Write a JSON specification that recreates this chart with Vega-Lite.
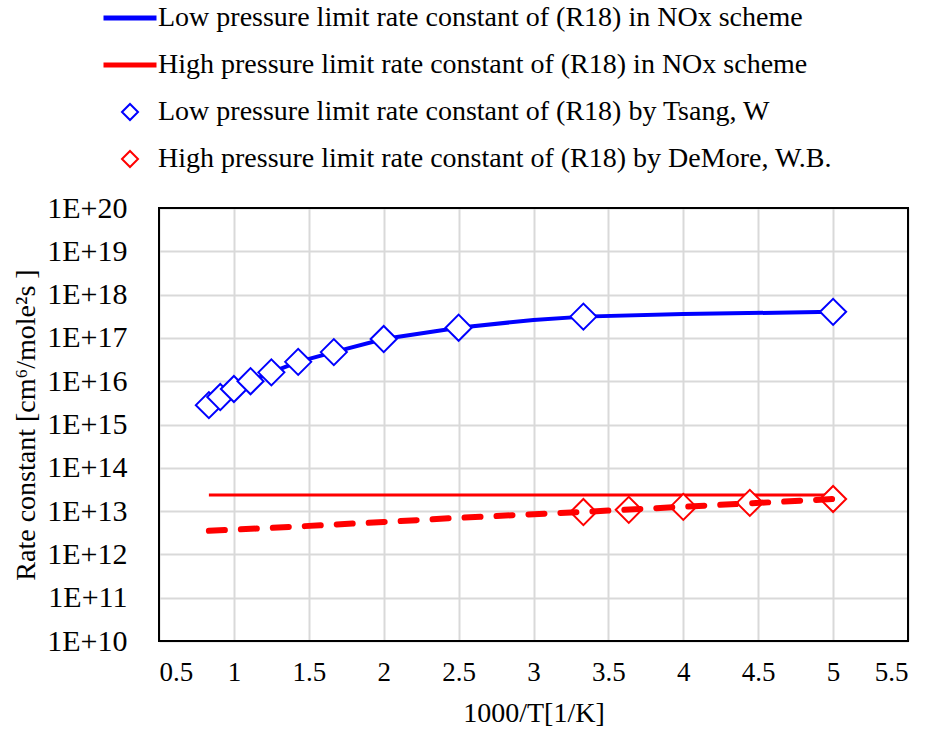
{
  "$schema": "https://vega.github.io/schema/vega-lite/v6.json",
  "width": 749,
  "height": 433,
  "autosize": "none",
  "padding": {"left": 159, "top": 208, "right": 22, "bottom": 92},
  "background": "white",
  "config": {
    "font": "Liberation Serif",
    "view": {"stroke": "black", "strokeWidth": 2},
    "style": {"cell": {"strokeForeground": true}},
    "axis": {
      "grid": true,
      "gridColor": "#d9d9d9",
      "gridWidth": 2,
      "domain": false,
      "ticks": false,
      "labelFont": "Liberation Serif",
      "labelColor": "black",
      "titleFont": "Liberation Serif",
      "titleFontSize": 28,
      "titleFontWeight": "normal",
      "titleColor": "black"
    },
    "legend": {
      "labelFont": "Liberation Serif",
      "labelFontSize": 28,
      "labelColor": "black",
      "labelLimit": 0
    }
  },
  "datasets": {
    "scheme_low": [
      {"series": "Low pressure limit rate constant of (R18) in NOx scheme", "invT": 0.833, "k": 2.8e15},
      {"series": "Low pressure limit rate constant of (R18) in NOx scheme", "invT": 0.909, "k": 4.3e15},
      {"series": "Low pressure limit rate constant of (R18) in NOx scheme", "invT": 1.0, "k": 6.6e15},
      {"series": "Low pressure limit rate constant of (R18) in NOx scheme", "invT": 1.111, "k": 1.0e16},
      {"series": "Low pressure limit rate constant of (R18) in NOx scheme", "invT": 1.25, "k": 1.6e16},
      {"series": "Low pressure limit rate constant of (R18) in NOx scheme", "invT": 1.429, "k": 2.8e16},
      {"series": "Low pressure limit rate constant of (R18) in NOx scheme", "invT": 1.667, "k": 4.7e16},
      {"series": "Low pressure limit rate constant of (R18) in NOx scheme", "invT": 2.0, "k": 9.4e16},
      {"series": "Low pressure limit rate constant of (R18) in NOx scheme", "invT": 2.5, "k": 1.72e17},
      {"series": "Low pressure limit rate constant of (R18) in NOx scheme", "invT": 3.0, "k": 2.6e17},
      {"series": "Low pressure limit rate constant of (R18) in NOx scheme", "invT": 3.333, "k": 3.1e17},
      {"series": "Low pressure limit rate constant of (R18) in NOx scheme", "invT": 4.0, "k": 3.55e17},
      {"series": "Low pressure limit rate constant of (R18) in NOx scheme", "invT": 5.0, "k": 4.0e17}
    ],
    "scheme_high": [
      {"series": "High pressure limit rate constant of (R18) in NOx scheme", "invT": 0.833, "k": 2.35e13},
      {"series": "High pressure limit rate constant of (R18) in NOx scheme", "invT": 2.0, "k": 2.35e13},
      {"series": "High pressure limit rate constant of (R18) in NOx scheme", "invT": 3.333, "k": 2.35e13},
      {"series": "High pressure limit rate constant of (R18) in NOx scheme", "invT": 5.0, "k": 2.35e13}
    ],
    "measured": [
      {"series": "Low pressure limit rate constant of (R18) by Tsang, W", "invT": 0.833, "k": 2.8e15},
      {"series": "Low pressure limit rate constant of (R18) by Tsang, W", "invT": 0.909, "k": 4.3e15},
      {"series": "Low pressure limit rate constant of (R18) by Tsang, W", "invT": 1.0, "k": 6.6e15},
      {"series": "Low pressure limit rate constant of (R18) by Tsang, W", "invT": 1.111, "k": 1.0e16},
      {"series": "Low pressure limit rate constant of (R18) by Tsang, W", "invT": 1.25, "k": 1.6e16},
      {"series": "Low pressure limit rate constant of (R18) by Tsang, W", "invT": 1.429, "k": 2.8e16},
      {"series": "Low pressure limit rate constant of (R18) by Tsang, W", "invT": 1.667, "k": 4.7e16},
      {"series": "Low pressure limit rate constant of (R18) by Tsang, W", "invT": 2.0, "k": 9.4e16},
      {"series": "Low pressure limit rate constant of (R18) by Tsang, W", "invT": 2.5, "k": 1.72e17},
      {"series": "Low pressure limit rate constant of (R18) by Tsang, W", "invT": 3.333, "k": 3.1e17},
      {"series": "Low pressure limit rate constant of (R18) by Tsang, W", "invT": 5.0, "k": 4.0e17},
      {"series": "High pressure limit rate constant of (R18) by DeMore, W.B.", "invT": 3.333, "k": 9.5e12},
      {"series": "High pressure limit rate constant of (R18) by DeMore, W.B.", "invT": 3.636, "k": 1.07e13},
      {"series": "High pressure limit rate constant of (R18) by DeMore, W.B.", "invT": 4.0, "k": 1.25e13},
      {"series": "High pressure limit rate constant of (R18) by DeMore, W.B.", "invT": 4.444, "k": 1.55e13},
      {"series": "High pressure limit rate constant of (R18) by DeMore, W.B.", "invT": 5.0, "k": 1.9e13}
    ],
    "fit": [
      {"invT": 0.833, "k": 3.5e12},
      {"invT": 1.25, "k": 4.1e12},
      {"invT": 2.0, "k": 5.6e12},
      {"invT": 2.5, "k": 7.0e12},
      {"invT": 3.333, "k": 9.6e12},
      {"invT": 4.0, "k": 1.26e13},
      {"invT": 5.0, "k": 1.9e13}
    ]
  },
  "encoding": {
    "x": {
      "field": "invT",
      "type": "quantitative",
      "title": "1000/T[1/K]",
      "scale": {"domain": [0.5, 5.5], "nice": false, "zero": false},
      "axis": {"values": [0.5, 1, 1.5, 2, 2.5, 3, 3.5, 4, 4.5, 5, 5.5], "format": "~g", "labelFontSize": 27, "labelPadding": 18, "titlePadding": 14}
    },
    "y": {
      "field": "k",
      "type": "quantitative",
      "title": "Rate constant [cm⁶/mole²s ]",
      "scale": {"type": "log", "domain": [1e10, 1e20], "nice": false},
      "axis": {
        "values": [1e10, 1e11, 1e12, 1e13, 1e14, 1e15, 1e16, 1e17, 1e18, 1e19, 1e20],
        "labelExpr": "'1E+' + format(round(log(datum.value) / LN10), 'd')",
        "labelFontSize": 30,
        "labelPadding": 32,
        "titlePadding": 6
      }
    }
  },
  "layer": [
    {
      "data": {"name": "scheme_low"},
      "mark": {"type": "line", "strokeWidth": 4},
      "encoding": {
        "color": {
          "field": "series",
          "type": "nominal",
          "scale": {
            "domain": [
              "Low pressure limit rate constant of (R18) in NOx scheme",
              "High pressure limit rate constant of (R18) in NOx scheme",
              "Low pressure limit rate constant of (R18) by Tsang, W",
              "High pressure limit rate constant of (R18) by DeMore, W.B."
            ],
            "range": ["#0000ff", "#ff0000", "#0000ff", "#ff0000"]
          },
          "legend": {
            "orient": "none",
            "legendX": -43,
            "legendY": -204,
            "title": null,
            "direction": "vertical",
            "padding": 0,
            "labelFont": "Liberation Serif",
            "labelFontSize": 28,
            "labelColor": "black",
            "labelLimit": 0,
            "labelOffset": 14,
            "symbolSize": 256,
            "rowPadding": 19,
            "encode": {
              "labels": {
                "update": {
                  "font": {"value": "Liberation Serif"},
                  "fontSize": {"value": 28},
                  "fill": {"value": "black"}
                }
              },
              "symbols": {
                "update": {
                  "shape": {"signal": "test(/NOx/, datum.value) ? 'stroke' : 'diamond'"},
                  "size": {"signal": "test(/NOx/, datum.value) ? 2809 : 256"},
                  "strokeWidth": {"signal": "test(/NOx/, datum.value) ? 5 : 2"},
                  "stroke": {"signal": "scale('color', datum.value)"},
                  "fill": {"value": "transparent"}
                }
              }
            }
          }
        }
      }
    },
    {
      "data": {"name": "scheme_high"},
      "mark": {"type": "line", "strokeWidth": 3},
      "encoding": {"color": {"field": "series", "type": "nominal"}}
    },
    {
      "data": {"name": "measured"},
      "mark": {"type": "point", "shape": "diamond", "filled": false, "fill": "white", "fillOpacity": 1, "size": 680, "strokeWidth": 2, "opacity": 1},
      "encoding": {"color": {"field": "series", "type": "nominal"}}
    },
    {
      "data": {"name": "fit"},
      "mark": {"type": "line", "color": "#ff0000", "strokeWidth": 6, "strokeDash": [16, 16], "strokeCap": "round"},
      "encoding": {}
    }
  ]
}
